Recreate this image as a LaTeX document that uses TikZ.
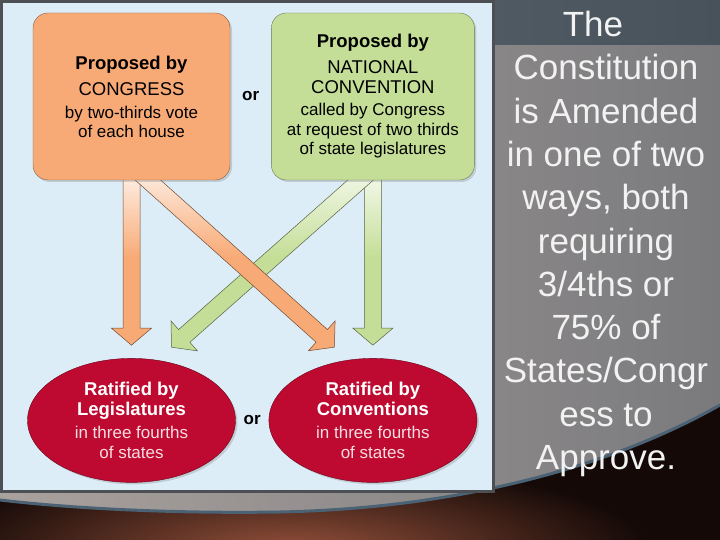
\documentclass[tikz,border=0pt]{standalone}
\usepackage{fontspec}
\setmainfont{Liberation Sans}
\usetikzlibrary{positioning}
\usetikzlibrary{calc,backgrounds}
\usetikzlibrary{shapes.geometric,shadows}
\definecolor{congfill}{HTML}{F8AA76}
\definecolor{convfill}{HTML}{C4DE97}
\definecolor{ratfill}{HTML}{BE0A30}
\definecolor{ratsoft}{HTML}{F6DDE1}
\definecolor{panelblue}{HTML}{DDEDF8}
\definecolor{panelline}{HTML}{4C4F54}
\definecolor{slidedark}{HTML}{140907}
\definecolor{glow}{HTML}{93503A}
\definecolor{graylight}{HTML}{A9A19D}
\definecolor{graydark}{HTML}{7A7A7D}
\definecolor{stripA}{HTML}{5F6B75}
\definecolor{stripB}{HTML}{48525B}
\definecolor{rimblue}{HTML}{4A6274}
\tikzset{propbox/.style={draw=#1!55!black, fill=#1, rounded corners=15pt,
           minimum height=167pt, inner sep=0pt, align=center,
           font=\fontsize{17}{19}\selectfont,
           drop shadow={opacity=0.3, shadow xshift=2pt, shadow yshift=-2pt}},
         ratbox/.style={ellipse, draw=ratfill!55!black, fill=ratfill,
           minimum width=208pt, minimum height=124pt, inner sep=0pt,
           align=center, text=white, font=\fontsize{17}{20}\selectfont,
           drop shadow={opacity=0.3, shadow xshift=2pt, shadow yshift=-2pt}},
         ortext/.style={font=\fontsize{17}{19}\selectfont\bfseries},
         fatarrow/.style={draw=#1!45!black, line width=0.5pt,
           top color=#1!15!white, bottom color=#1, middle color=#1},
         sidetext/.style={anchor=north, inner sep=0pt, align=center,
           text=white!95!black, font=\fontsize{35}{43.3}\selectfont}}
\newcommand{\hdline}[1]{{\fontsize{18.5}{19}\selectfont #1}}
\newcommand{\fatarrow}[3]{%
  \coordinate (head) at ($(#3)!17pt!(#2)$);
  \path[fatarrow=#1] ($(#2)!8.5pt!90:(#3)$) -- ($(head)!8.5pt!90:(#3)$)
    -- ($(head)!20pt!90:(#3)$) -- (#3) -- ($(head)!20pt!-90:(#3)$)
    -- ($(head)!8.5pt!-90:(#3)$) -- ($(#2)!8.5pt!-90:(#3)$) -- cycle;}

\begin{document}
\begin{tikzpicture}[x=1pt, y=1pt]
  \useasboundingbox (0,0) rectangle (720,540);
  \node[propbox=congfill, minimum width=197pt] (cong) at (131.5,443.5)
    {\hdline{\bfseries Proposed by}\\[7pt] \hdline{CONGRESS}\\[4pt]
     by two-thirds vote\\ of each house};
  \node[propbox=convfill, minimum width=203pt, right=41pt of cong] (natconv)
    {\hdline{\bfseries Proposed by}\\[7pt] \hdline{NATIONAL}\\[1pt] \hdline{CONVENTION}\\[3pt]
     called by Congress\\[1pt] at request of two thirds\\ of state legislatures};
  \node[ortext] (ortop) at ($(cong.east)!0.5!(natconv.west)$) {or};
  \node[ratbox, below=178pt of cong] (legis)
    {\hdline{\bfseries Ratified by}\\ \hdline{\bfseries Legislatures}\\[3pt]
     \textcolor{ratsoft}{in three fourths}\\ \textcolor{ratsoft}{of states}};
  \node[ratbox, below=178pt of natconv] (conv)
    {\hdline{\bfseries Ratified by}\\ \hdline{\bfseries Conventions}\\[3pt]
     \textcolor{ratsoft}{in three fourths}\\ \textcolor{ratsoft}{of states}};
  \node[ortext] (orbot) at ($(legis.east)!0.5!(conv.west)$) {or};
  \node[sidetext] (note) at (606,529)
    {The\hspace*{26pt}\\ Constitution\\ is Amended\\ in one of two\\ ways, both\\
     requiring\\ 3/4ths or\\ 75\% of\\ States/Congr\\ ess to\\ Approve.};

  \coordinate (cv1) at ([yshift=10pt]cong.south);
  \coordinate (cv2) at ([yshift=13pt]legis.north);
  \coordinate (cd1) at ([xshift=5.4pt,yshift=10pt]cong.south);
  \coordinate (cd2) at ([xshift=-38.5pt,yshift=11pt]conv.north);
  \coordinate (nv1) at ([yshift=10pt]natconv.south);
  \coordinate (nv2) at ([yshift=13pt]conv.north);
  \coordinate (nd1) at ([xshift=-1.2pt,yshift=10pt]natconv.south);
  \coordinate (nd2) at ([xshift=40pt,yshift=11pt]legis.north);

  \begin{pgfonlayer}{background}
    \fill[slidedark] (0,0) rectangle (720,540);
    \begin{scope}
      \clip (0,0) rectangle (720,540);
      \shade[inner color=glow, outer color=slidedark] (290,-10) ellipse (360 and 90);
    \end{scope}
    \shade[left color=graylight, right color=graydark] (0,540) -- (720,540)
      -- (720,135) .. controls (620,78) and (470,32) .. (280,28)
      .. controls (150,26) and (50,34) .. (0,40) -- cycle;
    \draw[rimblue, line width=3pt] (720,135) .. controls (620,78) and (470,32) .. (280,28)
      .. controls (150,26) and (50,34) .. (0,40);
    \shade[left color=stripA, right color=stripB] (0,495) rectangle (720,540);
    \draw[panelline, line width=3pt, fill=panelblue] (1,48) rectangle (493,538);
    \fatarrow{convfill}{nv1}{nv2}
    \fatarrow{convfill}{nd1}{nd2}
    \fatarrow{congfill}{cv1}{cv2}
    \fatarrow{congfill}{cd1}{cd2}
  \end{pgfonlayer}
\end{tikzpicture}
\end{document}
